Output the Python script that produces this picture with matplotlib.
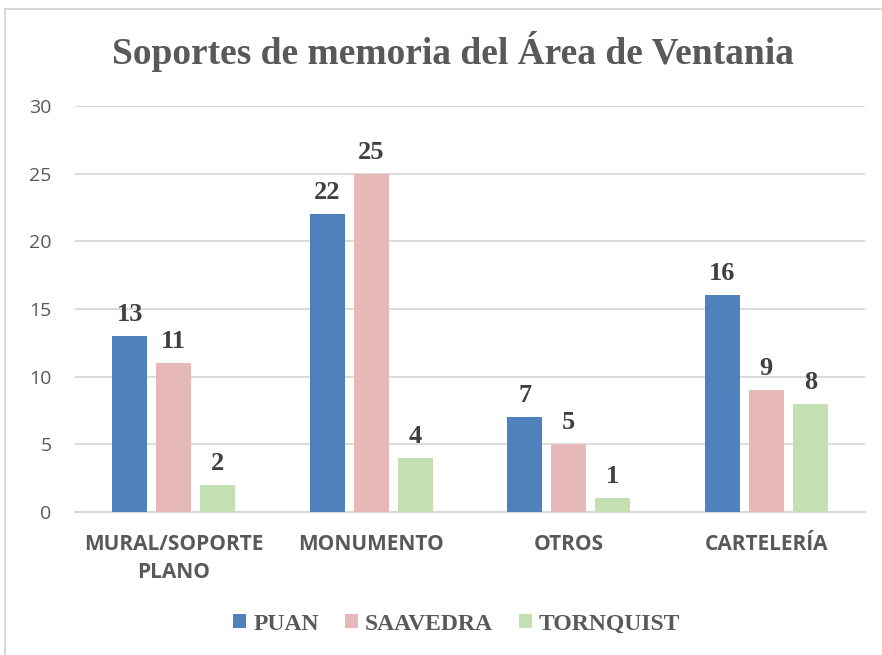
import numpy as np
import matplotlib.pyplot as plt
from matplotlib.patches import Rectangle

categories = ["MURAL/SOPORTE\nPLANO", "MONUMENTO", "OTROS", "CARTELERÍA"]
series_names = ["PUAN", "SAAVEDRA", "TORNQUIST"]
puan = [13, 22, 7, 16]
saavedra = [11, 25, 5, 9]
tornquist = [2, 4, 1, 8]
colors = ["#4f81bd", "#e6b9b8", "#c4dfb1"]

grey = "#595959"

fig = plt.figure(figsize=(8.82, 6.55), dpi=100)
ax = fig.add_axes([75 / 882, 1 - 512 / 655, 790 / 882, 406 / 655])

# outer chart frame (light grey)
fig.patches.append(Rectangle((5 / 882, -0.1), 1.2, 1 - 9 / 655 + 0.1,
                             transform=fig.transFigure, fill=False,
                             edgecolor="#d9d9d9", linewidth=1.5))

x = np.arange(len(categories))
width = 0.177
step = 0.223
for i, (vals, name) in enumerate(zip([puan, saavedra, tornquist], series_names)):
    bars = ax.bar(x + (i - 1) * step, vals, width, color=colors[i], label=name, zorder=3)
    for b, v in zip(bars, vals):
        ax.text(b.get_x() + b.get_width() / 2, v + 0.75, str(v), ha="center", va="bottom",
                fontsize=19, fontweight="bold", family="Liberation Serif", color="#404040")

ax.set_xlim(-0.5, len(categories) - 0.5)
ax.set_ylim(0, 30)
ax.set_yticks(range(0, 31, 5))
ax.grid(axis="y", color="#d9d9d9", linewidth=1.3, zorder=0)
for s in ["top", "right", "left"]:
    ax.spines[s].set_visible(False)
ax.spines["bottom"].set_color("#d9d9d9")
ax.spines["bottom"].set_linewidth(1.5)
ax.tick_params(axis="y", length=0, pad=17, labelsize=14, labelcolor=grey)
ax.tick_params(axis="x", length=0, pad=16)
ax.set_xticks(x)
ax.set_xticklabels(categories, fontsize=15, fontweight="bold", color=grey,
                   family="Open Sans", linespacing=1.4)
for t in ax.get_yticklabels():
    t.set_family("Open Sans")

fig.text(453 / 882, 1 - 52 / 655, "Soportes de memoria del Área de Ventania", ha="center",
         va="center", fontsize=27, fontweight="bold", family="Liberation Serif", color=grey)

leg = fig.legend(loc="center", bbox_to_anchor=(457 / 882, 1 - 624 / 655), ncol=3, frameon=False,
                 prop={"family": "Liberation Serif", "weight": "bold", "size": 17},
                 handlelength=0.55, handleheight=0.55, handletextpad=0.3, columnspacing=1.1)
for t in leg.get_texts():
    t.set_color(grey)

fig.savefig("out.png", dpi=100)
